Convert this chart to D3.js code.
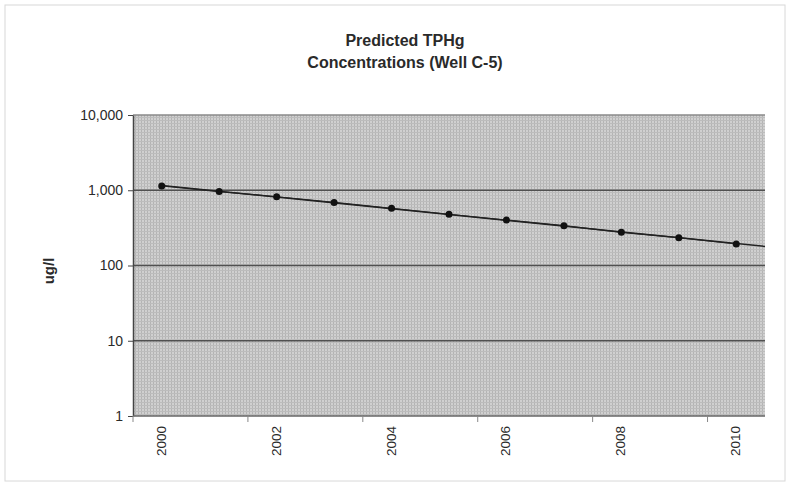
<!DOCTYPE html>
<html><head><meta charset="utf-8">
<script src="https://cdn.jsdelivr.net/npm/d3@7"></script>
<style>body{margin:0;background:#fff;font-family:"Liberation Sans",Arial,sans-serif}</style>
</head><body><svg id="c" width="790" height="487"></svg>
<script>
const years = [2000,2001,2002,2003,2004,2005,2006,2007,2008,2009,2010];
const conc = [1140,960,820,690,575,480,402,338,276,234,193];
const yTicks = [1,10,100,1000,10000];
const xLabelYears = [2000,2002,2004,2006,2008,2010];
const title = ["Predicted TPHg","Concentrations (Well C-5)"];
const yLabel = "ug/l";

const svg = d3.select("#c");
const L=133, R=765, T=115, B=416;
svg.append("rect").attr("x",5).attr("y",5).attr("width",780).attr("height",476)
  .attr("fill","#fff").attr("stroke","#d8d8d8");

const defs = svg.append("defs");
const pat = defs.append("pattern").attr("id","dot").attr("width",3).attr("height",3).attr("patternUnits","userSpaceOnUse");
pat.append("rect").attr("width",3).attr("height",3).attr("fill","#d0d0d0");
pat.append("rect").attr("width",1).attr("height",3).attr("fill","#b4b4b4");
pat.append("rect").attr("width",3).attr("height",1).attr("fill","#bcbcbc");

const x = d3.scaleBand().domain(years).range([L,R]).padding(0);
const y = d3.scaleLog().domain([1,10000]).range([B,T]);

svg.append("rect").attr("x",L).attr("y",T).attr("width",R-L).attr("height",B-T).attr("fill","url(#dot)");

// gridlines
svg.append("g").selectAll("line").data(yTicks.filter(d=>d>1)).join("line")
  .attr("x1",L).attr("x2",R).attr("y1",d=>y(d)).attr("y2",d=>y(d))
  .attr("stroke",d=>d===10000?"#8a8a8a":"#505050").attr("stroke-width",1.3);

// y axis
const ya = svg.append("g").attr("transform",`translate(${L},0)`)
  .call(d3.axisLeft(y).tickValues(yTicks).tickFormat(d3.format(",")).tickSize(5).tickSizeOuter(0));
ya.select(".domain").attr("stroke","#444").attr("stroke-width",1.5);
ya.selectAll(".tick line").attr("stroke","#444");
ya.selectAll("text").attr("font-size",14).attr("fill","#2a2a2a").attr("font-family","Liberation Sans, Arial, sans-serif").attr("x",-10);

// x axis bottom line
svg.append("line").attr("x1",L).attr("x2",R).attr("y1",B).attr("y2",B).attr("stroke","#666").attr("stroke-width",1.5);
// boundary ticks every 2 categories
const bounds = years.filter((d,i)=>i%2===0).map(d=>x(d));
svg.append("g").selectAll("line").data(bounds).join("line")
  .attr("x1",d=>d).attr("x2",d=>d).attr("y1",B).attr("y2",B+6).attr("stroke","#888");
svg.append("g").selectAll("text").data(xLabelYears).join("text")
  .attr("transform",d=>`translate(${x(d)+x.bandwidth()/2+4},426) rotate(-90)`)
  .attr("text-anchor","end").attr("font-size",13.5).attr("fill","#2a2a2a").text(d=>d);

// trend line (exponential fit) extended to plot edge
const xs=years.map(d=>d-years[0]), ls=conc.map(Math.log);
const mx=d3.mean(xs), ml=d3.mean(ls);
const b=d3.sum(xs.map((v,i)=>(v-mx)*(ls[i]-ml)))/d3.sum(xs.map(v=>(v-mx)*(v-mx)));
const a=ml-b*mx;
const cx = d=>x(d)+x.bandwidth()/2;
const xEnd = (R - cx(years[0]))/x.step();
svg.append("line").attr("x1",cx(years[0])).attr("y1",y(Math.exp(a)))
  .attr("x2",R).attr("y2",y(Math.exp(a+b*xEnd))).attr("stroke","#222").attr("stroke-width",1.5);

// data line + points
svg.append("path").datum(years.map((d,i)=>[cx(d),y(conc[i])]))
  .attr("d",d3.line()).attr("fill","none").attr("stroke","#222").attr("stroke-width",1.2);
svg.append("g").selectAll("circle").data(years).join("circle")
  .attr("cx",d=>cx(d)).attr("cy",(d,i)=>y(conc[i])).attr("r",3.5).attr("fill","#111");

// title
svg.append("g").selectAll("text").data(title).join("text")
  .attr("x",405).attr("y",(d,i)=>46+i*22).attr("text-anchor","middle")
  .attr("font-size",16).attr("font-weight","bold").attr("fill","#2a2a2a").text(d=>d);
svg.append("text").attr("transform","translate(54,271) rotate(-90)").attr("text-anchor","middle")
  .attr("font-size",15).attr("font-weight","bold").attr("fill","#2a2a2a").text(yLabel);
</script></body></html>
